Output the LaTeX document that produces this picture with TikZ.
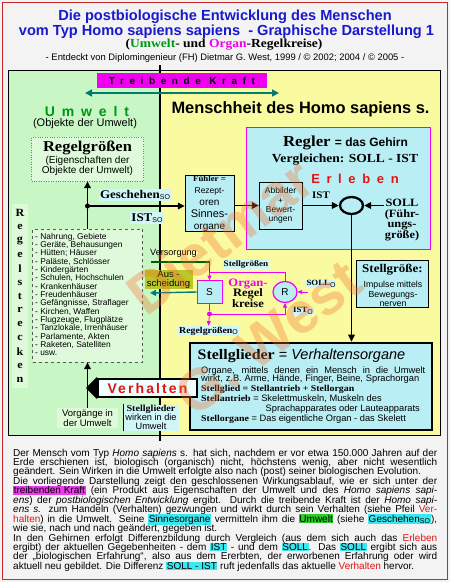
\documentclass[tikz,border=0pt]{standalone}
\usepackage{fontspec}
\setmainfont{Liberation Serif}[FakeStretch=1.1]
\setsansfont{Liberation Sans}
\usepackage{tikz}
\usetikzlibrary{positioning, arrows.meta, shapes.geometric}

\definecolor{pagebg}{RGB}{243,243,243}
\definecolor{framered}{RGB}{200,40,40}
\definecolor{titleblue}{RGB}{25,25,205}
\definecolor{umweltgreen}{RGB}{0,150,20}
\definecolor{greenbg}{RGB}{200,246,196}
\definecolor{greenlight}{RGB}{222,250,218}
\definecolor{yellowbg}{RGB}{250,250,160}
\definecolor{cyanbg}{RGB}{185,238,245}
\definecolor{cyanlight}{RGB}{208,246,248}
\definecolor{verhbg}{RGB}{238,255,255}
\definecolor{orgmag}{RGB}{240,0,240}
\definecolor{drivecol}{RGB}{0,125,110}
\definecolor{versgreen}{RGB}{0,95,0}
\definecolor{olivebg}{RGB}{185,200,40}
\definecolor{erlebred}{RGB}{225,20,20}
\definecolor{hlmag}{RGB}{235,60,235}
\definecolor{hlcyan}{RGB}{60,232,240}
\definecolor{hlgreen}{RGB}{40,205,40}
\definecolor{wmorange}{RGB}{245,110,40}

\newcommand{\fsz}[1]{\fontsize{#1}{#1}\selectfont}
\newcommand{\idx}[1]{\raisebox{-1.5pt}{\sffamily\mdseries\fsz{7}#1}}
\newcommand{\hl}[2]{{\setlength{\fboxsep}{0.6pt}\colorbox{#1}{#2}}}
\newcommand{\jline}[1]{\makebox[424pt][s]{#1}}
\newcommand{\spaced}[2]{{\addfontfeature{LetterSpace=#1}#2}}

\begin{document}
\begin{tikzpicture}[x=1pt, y=-1pt, font=\sffamily,
  lbl/.style={fill=cyanlight, inner sep=1pt, font=\rmfamily\bfseries\fsz{11.8}},
  cbox/.style={draw, fill=cyanbg, align=center, inner sep=0pt},
  arr/.style={-{Triangle[length=7pt,width=6.5pt]}, line width=1.6pt},
  marr/.style={orgmag, line width=0.8pt, -{Triangle[length=4.5pt,width=4pt]}},
  tarr/.style={drivecol, line width=1.4pt, -{Triangle[length=6pt,width=6pt]}},
  jdot/.style={circle, fill, inner sep=0pt, minimum size=5pt},
  item/.style={anchor=base west, inner sep=0pt, font=\sffamily\fsz{8.4}},
  sgline/.style={anchor=base west, inner sep=0pt, font=\sffamily\fsz{9.3}},
  para/.style={anchor=base west, inner sep=0pt, font=\sffamily\fsz{10}},
  wmark/.style={rotate=37, text=wmorange, opacity=0.33, inner sep=0pt, font=\sffamily\bfseries\fsz{58}},
]
% page and frame
\fill[pagebg] (0,0) rectangle (450,582);
\draw[framered, line width=0.8pt] (2.5,2.5) rectangle (447.5,579.5);
\useasboundingbox (0,0) rectangle (450,582);

% heading
\node[titleblue, font=\sffamily\bfseries\fsz{14.6}] (title1) at (225,17) {Die postbiologische Entwicklung des Menschen};
\node[titleblue, font=\sffamily\bfseries\fsz{14.6}] (title2) at (226.5,32) {vom Typ Homo sapiens sapiens \ - Graphische Darstellung 1};
\node[font=\rmfamily\bfseries\fsz{12.3}] (subtitle) at (224,45) {(\textcolor{umweltgreen}{Umwelt}- und \textcolor{orgmag}{Organ}-Regelkreise)};
\node[font=\sffamily\fsz{9.4}] (credit) at (225,58) {- Entdeckt von Diplomingenieur (FH) Dietmar G. West, 1999 / © 2002; 2004 / © 2005 -};

% panels
\fill[greenbg] (8,70) rectangle (160,435);
\fill[yellowbg] (160,70) rectangle (440,435);
\draw[line width=0.6pt] (8,70) rectangle (440,435);
\draw[line width=1.4pt] (160,65) -- (160,441);

% treibende Kraft
\node[fill=orgmag, minimum width=170pt, minimum height=15pt, inner sep=0pt, font=\sffamily\bfseries\fsz{10}] (drive) at (182,80.5) {\spaced{56}{Treibende Kraft}};
\coordinate (driveL) at (85,93);
\coordinate (driveR) at (279,93);
\draw[drivecol, line width=1.6pt, {Triangle[length=7pt,width=7pt]}-{Triangle[length=7pt,width=7pt]}] (driveL) -- (driveR);

\node[umweltgreen, font=\sffamily\bfseries\fsz{14}] (umwelt) at (87,111) {\spaced{49}{Umwelt}};
\node[font=\sffamily\fsz{11}] (umweltsub) at (85,123.5) {(Objekte der Umwelt)};
\node[font=\sffamily\bfseries\fsz{16.4}] (mensch) at (300.5,109) {Menschheit des Homo sapiens s.};

% Umwelt side
\node[fill=greenlight, draw=gray, dotted, minimum width=112pt, minimum height=44pt] (regelgr) at (87.5,159) {};
\node[font=\rmfamily\bfseries\fsz{15}] (regelgrtxt) at (87.5,148) {Regelgrößen};
\node[font=\sffamily\fontsize{10}{10.5}\selectfont, align=center] (regelgrsub) at (87.5,166) {(Eigenschaften der\\Objekte der Umwelt)};

\fill[greenlight] (12,204) rectangle (28,388);
\foreach \c [count=\i] in {R,e,g,e,l,s,t,r,e,c,k,e,n}
  \node[font=\rmfamily\bfseries\fsz{11}] (strecke\i) at (20,{213+(\i-1)*13.9}) {\c};

\node[fill=greenlight, draw=gray!70!black, dashed, minimum width=110pt, minimum height=133pt] (liste) at (87.5,295.5) {};
\foreach \t [count=\i] in {{Nahrung, Gebiete}, {Geräte, Behausungen}, {Hütten; Häuser}, {Paläste, Schlösser}, {Kindergärten}, {Schulen, Hochschulen}, {Krankenhäuser}, {Freudenhäuser}, {Gefängnisse, Straflager}, {Kirchen, Waffen}, {Flugzeuge, Flugplätze}, {Tanzlokale, Irrenhäuser}, {Parlamente, Akten}, {Raketen, Satelliten}, {usw.}}
  \node[item] (item\i) at (35,{239.3+(\i-1)*8.32}) {- \t};

% Fuehler and Regler
\node[cbox, minimum width=49pt, minimum height=51pt] (fuehler) at (209.5,203.5) {{\rmfamily\bfseries\fsz{8}Fühler =}\\ \fsz{8.5}Rezept-\\oren\\ \fontsize{11}{9.4}\selectfont Sinnes-\\organe};
\node[draw=orgmag, fill=cyanbg, line width=0.8pt, minimum width=184pt, minimum height=122pt] (regler) at (338,188) {};
\node[font=\rmfamily\bfseries\fsz{15.3}] (reglertitle) at (345.5,143) {Regler {\sffamily\fsz{12}= das Gehirn}};
\node[font=\rmfamily\bfseries\fsz{12.3}] (vergleich) at (345,159.5) {Vergleichen: SOLL - IST};
\node[text=erlebred, font=\sffamily\bfseries\fsz{13}] (erleben) at (355,179) {\spaced{51}{Erleben}};
\node[cbox, minimum width=43pt, minimum height=47pt, font=\sffamily\fontsize{8.5}{9.3}\selectfont] (abbilder) at (280.5,205.5) {Abbilder\\+\\Bewert-\\ungen};
\node[font=\rmfamily\bfseries\fsz{10}] (istlbl) at (321,195) {IST};
\node[draw, ellipse, line width=2.3pt, minimum width=23pt, minimum height=17pt, inner sep=0pt] (comp) at (351.5,205.5) {};
\node[font=\rmfamily\bfseries\fontsize{11.2}{10.8}\selectfont, align=center] (soll) at (402,220) {SOLL\\(Führ-\\ungs-\\größe)};
\coordinate (sollin) at (384,205.5);

\node[cbox, minimum width=72pt, minimum height=47pt] (stellgr) at (392,283.5) {};
\node[font=\rmfamily\bfseries\fsz{11.8}] (stellgrtxt) at (392.5,270) {Stellgröße:};
\node[font=\sffamily\fontsize{8.8}{9.5}\selectfont, align=center] (stellgrsub) at (393,294) {Impulse mittels\\Bewegungs-\\nerven};

% Organ-Regelkreise
\node[draw=orgmag, fill=cyanbg, line width=0.8pt, minimum width=25pt, minimum height=23pt, inner sep=0pt, font=\sffamily\fsz{10}] (sbox) at (209.5,292) {S};
\node[draw=orgmag, fill=cyanbg, ellipse, line width=1.2pt, minimum width=24pt, minimum height=21pt, inner sep=0pt, font=\sffamily\fsz{10}] (rbox) at (285,292) {R};
\node[font=\rmfamily\bfseries\fontsize{11.4}{10.5}\selectfont, align=center] (organtxt) at (248,293) {\textcolor{orgmag}{Organ-}\\Regel\\kreise};
\node[lbl, font=\rmfamily\bfseries\fsz{8.3}] (stellgrlbl) at (246,264) {Stellgrößen};
\node[lbl, font=\rmfamily\bfseries\fsz{8}] (solllbl) at (321,284) {SOLL\idx{O}};
\node[lbl, font=\rmfamily\bfseries\fsz{8}] (istolbl) at (303,311) {IST\idx{O}};
\node[lbl, font=\rmfamily\bfseries\fsz{9}] (regelgro) at (208.5,331) {Regelgrößen\idx{O}};
\node[font=\sffamily\fsz{9.1}] (versorgung) at (173.5,253.5) {Versorgung};
\node[fill=olivebg, minimum width=48pt, minimum height=19pt, inner sep=0pt, align=center, font=\sffamily\fontsize{9.5}{9.5}\selectfont] (aus) at (168.5,279.5) {Aus -\\scheidung};
\coordinate (ltop) at (209.5,272);
\coordinate (vstart) at (151,262);
\coordinate (aend) at (150,293);
\coordinate (solloin) at (308,292);
\node[jdot, orgmag] (ldot) at (209.5,314) {};

% Stellglieder
\node[draw, line width=2.6pt, fill=cyanbg, minimum width=242pt, minimum height=87pt] (stellglieder) at (311,386.5) {};
\node[anchor=base, inner sep=0pt, font=\sffamily\fsz{14.5}] (sgtitle) at (301.5,359) {{\rmfamily\bfseries Stellglieder} = \textit{Verhaltensorgane}};
\node[sgline] (sg1) at (201,373.3) {\makebox[224pt][s]{Organe, mittels denen ein Mensch in die Umwelt}};
\node[sgline] (sg2) at (201,381.5) {\makebox[218pt][s]{wirkt, z.B. Arme, Hände, Finger, Beine, Sprachorgan}};
\node[sgline] (sg3) at (201,391.5) {{\rmfamily\bfseries\fsz{9}Stellglied = Stellantrieb + Stellorgan}};
\node[sgline] (sg4) at (201,401) {{\rmfamily\bfseries\fsz{9}Stellantrieb} = Skelettmuskeln, Muskeln des};
\node[sgline, anchor=base east] (sg5) at (420,411.5) {Sprachapparates oder Lauteapparats};
\node[sgline] (sg6) at (201,421) {{\rmfamily\bfseries\fsz{9}Stellorgane} = Das eigentliche Organ - das Skelett};

% Verhalten and Umwelt labels
\node[draw, line width=1.8pt, fill=verhbg, text=erlebred, minimum width=99pt, minimum height=18pt, inner sep=0pt, font=\sffamily\bfseries\fsz{14}] (verhalten) at (147.5,388) {\spaced{15}{Verhalten}};
\coordinate (vtip) at (86,388);
\node[fill=greenlight, minimum width=61pt, minimum height=20pt, inner sep=0pt, align=center, font=\sffamily\fontsize{9.5}{10}\selectfont] (vorgaenge) at (87.5,418) {Vorgänge in\\der Umwelt};
\node[fill=cyanlight, minimum width=55pt, minimum height=26pt, inner sep=0pt, align=center, font=\sffamily\fontsize{9.2}{8.7}\selectfont] (wirken) at (151,417.5) {{\rmfamily\bfseries Stellglieder}\\wirken in die\\Umwelt};

% labels over the divider
\node[lbl] (geschehen) at (135,195) {Geschehen\idx{SO}};
\node[lbl] (istso) at (147,218) {IST\idx{SO}};
\node[jdot] (j1) at (87.5,206) {};

% connectors
\draw[arr] (liste.north) -- (regelgr.south);
\draw[arr] (j1) -- (j1 -| fuehler.west);
\draw[arr] (fuehler.east |- abbilder) -- (abbilder.west);
\draw[arr] (abbilder.east) -- (comp.west);
\draw[arr] (sollin) -- (comp.east);
\draw[arr] (comp.south) -- (comp |- stellglieder.north);
\draw[arr] (vorgaenge.north) -- (liste.south);
\draw[line width=1.8pt, -{Triangle[length=11pt,width=22pt]}] (verhalten.west) -- (vtip);
\draw[line width=0.8pt] (wirken.north west) -- (wirken.south west);
\draw[versgreen, line width=1.4pt] (vstart) -| (ltop);
\draw[marr] (rbox.north) |- (ltop) -- (sbox.north);
\draw[orgmag, line width=0.8pt] (sbox.south) -- (ldot);
\draw[marr] (ldot) -| (rbox.south);
\draw[marr] (ldot) -- (regelgro.north);
\draw[marr] (solloin) -- (rbox.east);
\draw[tarr] (sbox.west) -- (aend);

% watermark
\node[wmark] (wm1) at (220,236) {Dietmar};
\node[wmark] (wm2) at (268,338) {G. West};

% text below
\node[para] (p1) at (13,456) {\jline{Der Mensch vom Typ \textit{Homo sapiens} s. hat sich, nachdem er vor etwa 150.000 Jahren auf der}};
\node[para] (p2) at (13,465.45) {\jline{Erde erschienen ist, biologisch (organisch) nicht, höchstens wenig, aber nicht wesentlich}};
\node[para] (p3) at (13,474.9) {geändert. Sein Wirken in die Umwelt erfolgte also nach (post) seiner biologischen Evolution.};
\node[para] (p4) at (13,484.35) {\jline{Die vorliegende Darstellung zeigt den geschlossenen Wirkungsablauf, wie er sich unter der}};
\node[para] (p5) at (13,493.8) {\jline{\hl{hlmag}{treibenden Kraft} (ein Produkt aus Eigenschaften der Umwelt und des \textit{Homo sapiens sapi-}}};
\node[para] (p6) at (13,503.25) {\jline{\textit{ens}) der \textit{postbiologischen Entwicklung} ergibt. Durch die treibende Kraft ist der \textit{Homo sapi-}}};
\node[para] (p7) at (13,512.7) {\jline{\textit{ens s.} zum Handeln (Verhalten) gezwungen und wirkt durch sein Verhalten (siehe Pfeil \textcolor{erlebred}{Ver-}}};
\node[para] (p8) at (13,522.15) {\jline{\textcolor{erlebred}{halten}) in die Umwelt. Seine \hl{hlcyan}{Sinnesorgane} vermitteln ihm die \hl{hlgreen}{Umwelt} (siehe \hl{hlcyan}{Geschehen\textsubscript{SO}}),}};
\node[para] (p9) at (13,531.6) {wie sie, nach und nach geändert, gegeben ist.};
\node[para] (p10) at (13,541.05) {\jline{In den Gehirnen erfolgt Differenzbildung durch Vergleich (aus dem sich auch das \textcolor{erlebred}{Erleben}}};
\node[para] (p11) at (13,550.5) {\jline{ergibt) der aktuellen Gegebenheiten - dem \hl{hlcyan}{IST} - und dem \hl{hlcyan}{SOLL}. Das \hl{hlcyan}{SOLL} ergibt sich aus}};
\node[para] (p12) at (13,559.95) {\jline{der „biologischen Erfahrung“, also aus dem Ererbten, der erworbenen Erfahrung oder wird}};
\node[para] (p13) at (13,569.4) {aktuell neu gebildet. Die Differenz \hl{hlcyan}{SOLL - IST} ruft jedenfalls das aktuelle \textcolor{erlebred}{Verhalten} hervor.};
\end{tikzpicture}
\end{document}
